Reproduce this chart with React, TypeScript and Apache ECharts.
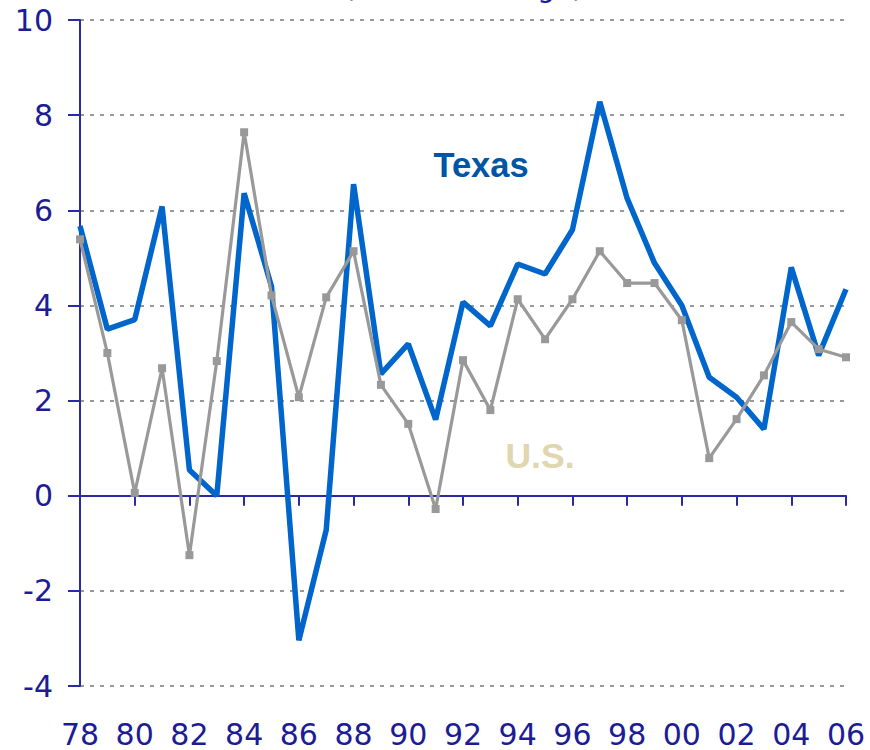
import React, { useEffect, useRef } from "react";
import * as echarts from "echarts";

const years: string[] = [
  "78", "79", "80", "81", "82", "83", "84", "85", "86", "87",
  "88", "89", "90", "91", "92", "93", "94", "95", "96", "97",
  "98", "99", "00", "01", "02", "03", "04", "05", "06",
];

const texas: number[] = [
  5.67, 3.5, 3.7, 6.08, 0.54, 0.0, 6.36, 4.4, -3.04, -0.72,
  6.55, 2.56, 3.19, 1.6, 4.07, 3.57, 4.87, 4.66, 5.59, 8.28,
  6.25, 4.89, 4.0, 2.49, 2.07, 1.4, 4.8, 2.95, 4.34,
];

const us: number[] = [
  5.39, 3.0, 0.06, 2.68, -1.25, 2.83, 7.64, 4.21, 2.07, 4.17,
  5.14, 2.33, 1.51, -0.28, 2.85, 1.8, 4.13, 3.29, 4.13, 5.14,
  4.47, 4.47, 3.69, 0.79, 1.61, 2.53, 3.65, 3.08, 2.91,
];

const yMin = -4;
const yMax = 10;
const yStep = 2;

const labelColor = "#1c1c96";
const axisColor = "#2a2aa5";

export default function App() {
  const ref = useRef<HTMLDivElement>(null);

  useEffect(() => {
    if (!ref.current) return;
    const chart = echarts.init(ref.current, undefined, { renderer: "svg" });
    chart.setOption({
      animation: false,
      backgroundColor: "#ffffff",
      grid: { left: 80, right: 24, top: 20, bottom: 64, containLabel: false },
      xAxis: [
        {
          type: "category",
          data: years,
          boundaryGap: false,
          position: "bottom",
          axisLine: { show: false, onZero: false },
          axisTick: { show: false },
          axisLabel: {
            interval: 1,
            margin: 33,
            color: labelColor,
            fontSize: 30,
            fontFamily: "DejaVu Sans",
          },
          splitLine: { show: false },
        },
        {
          type: "category",
          data: years,
          boundaryGap: false,
          position: "bottom",
          axisLine: {
            show: true,
            onZero: true,
            lineStyle: { color: axisColor, width: 2 },
          },
          axisTick: {
            show: true,
            interval: 1,
            length: 10,
            lineStyle: { color: axisColor, width: 2 },
          },
          axisLabel: { show: false },
          splitLine: { show: false },
        },
      ],
      yAxis: {
        type: "value",
        min: yMin,
        max: yMax,
        interval: yStep,
        axisLine: { show: true, lineStyle: { color: axisColor, width: 2 } },
        axisTick: { show: true, length: 12, lineStyle: { color: axisColor, width: 2 } },
        axisLabel: {
          margin: 27,
          color: labelColor,
          fontSize: 30,
          fontFamily: "DejaVu Sans",
        },
        splitLine: {
          show: true,
          lineStyle: { color: "#999999", width: 2, type: [4, 6] },
        },
      },
      series: [
        {
          name: "Texas",
          type: "line",
          data: texas,
          xAxisIndex: 0,
          showSymbol: false,
          symbol: "none",
          lineStyle: { color: "#0066cc", width: 5.5 },
          z: 3,
        },
        {
          name: "U.S.",
          type: "line",
          data: us,
          xAxisIndex: 0,
          symbol: "rect",
          symbolSize: 8,
          itemStyle: { color: "#999999" },
          lineStyle: { color: "#999999", width: 3.2 },
          z: 4,
        },
      ],
      graphic: [
        {
          type: "text",
          left: 344,
          top: -27,
          style: {
            text: "(Percent change)",
            fill: labelColor,
            fontSize: 28,
            fontFamily: "DejaVu Sans",
          },
        },
        {
          type: "text",
          x: 481,
          y: 165,
          style: {
            text: "Texas",
            fill: "#0055a5",
            fontSize: 34.5,
            fontWeight: "bold",
            fontFamily: "Liberation Sans",
            align: "center",
            verticalAlign: "middle",
          },
        },
        {
          type: "text",
          x: 540,
          y: 456,
          style: {
            text: "U.S.",
            fill: "#e0d6b0",
            fontSize: 35.5,
            fontWeight: "bold",
            fontFamily: "Liberation Sans",
            align: "center",
            verticalAlign: "middle",
          },
        },
      ],
    });
    return () => chart.dispose();
  }, []);

  return (
    <div
      ref={ref}
      style={{ position: "fixed", left: 0, top: 0, width: 870, height: 750 }}
    />
  );
}
